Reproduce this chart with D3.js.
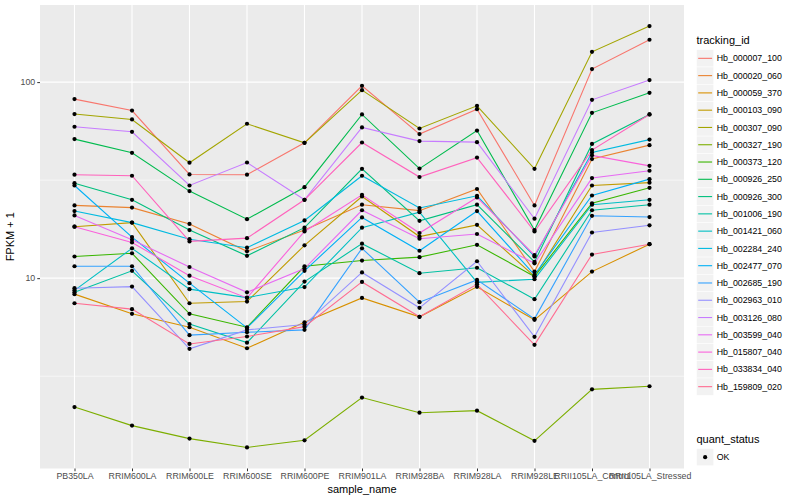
<!DOCTYPE html>
<html>
<head>
<meta charset="utf-8">
<script src="https://cdn.jsdelivr.net/npm/d3@7"></script>
<style>
  body { margin: 0; background: #fff; }
  text { font-family: "Liberation Sans", Arial, sans-serif; }
</style>
</head>
<body>
<svg id="chart" width="800" height="500"></svg>
<script>
const samples = ['PB350LA', 'RRIM600LA', 'RRIM600LE', 'RRIM600SE', 'RRIM600PE', 'RRIM901LA',
  'RRIM928BA', 'RRIM928LA', 'RRIM928LE', 'RRII105LA_Control', 'RRII105LA_Stressed'];

const trackingIds = ['Hb_000007_100', 'Hb_000020_060', 'Hb_000059_370', 'Hb_000103_090', 'Hb_000307_090',
  'Hb_000327_190', 'Hb_000373_120', 'Hb_000926_250', 'Hb_000926_300', 'Hb_001006_190', 'Hb_001421_060',
  'Hb_002284_240', 'Hb_002477_070', 'Hb_002685_190', 'Hb_002963_010', 'Hb_003126_080', 'Hb_003599_040',
  'Hb_015807_040', 'Hb_033834_040', 'Hb_159809_020'];

// FPKM + 1, one array per tracking_id, in sample order
const hb000007_100 = [81.9, 71.6, 33.8, 33.7, 49.0, 95.7, 54.3, 72.8, 23.5, 116.5, 164.4];
const hb000020_060 = [23.5, 22.9, 18.9, 13.7, 17.6, 23.7, 22.1, 28.5, 10.8, 40.5, 47.7];
const hb000059_370 = [8.29, 6.58, 5.62, 4.39, 5.96, 7.93, 6.35, 9.03, 6.13, 10.8, 14.9];
const hb000103_090 = [18.3, 19.2, 7.45, 7.60, 14.7, 26.1, 16.3, 18.7, 10.2, 29.7, 30.7];
const hb000307_090 = [68.7, 64.5, 38.8, 61.3, 49.0, 91.0, 58.0, 75.7, 36.1, 142.7, 193.1];
const hb000327_190 = [2.20, 1.77, 1.52, 1.37, 1.49, 2.46, 2.06, 2.11, 1.48, 2.71, 2.81];
const hb000373_120 = [12.9, 13.4, 6.58, 5.62, 11.5, 12.3, 12.8, 14.8, 10.2, 24.1, 28.9];
const hb000926_250 = [51.2, 43.6, 27.8, 20.0, 29.1, 68.4, 36.2, 56.6, 17.6, 69.7, 88.2];
const hb000926_300 = [30.5, 25.1, 17.6, 13.0, 18.1, 36.1, 19.6, 23.7, 12.1, 48.4, 68.4];
const hb001006_190 = [8.47, 10.9, 5.83, 4.69, 9.61, 15.0, 10.6, 11.3, 7.81, 22.2, 23.7];
const hb001421_060 = [8.67, 14.2, 8.79, 7.96, 9.01, 18.1, 21.7, 9.52, 9.88, 23.7, 25.1];
const hb002284_240 = [22.0, 19.2, 15.8, 14.3, 19.7, 33.3, 22.8, 26.3, 12.9, 43.8, 50.9];
const hb002477_070 = [29.7, 16.2, 9.43, 5.58, 10.9, 20.4, 13.8, 22.0, 10.4, 26.4, 32.0];
const hb002685_190 = [11.5, 11.5, 5.12, 5.30, 5.45, 14.2, 7.54, 9.80, 6.20, 20.8, 20.5];
const hb002963_010 = [8.89, 9.06, 4.36, 5.45, 5.80, 10.7, 7.06, 12.2, 5.02, 17.1, 18.6];
const hb003126_080 = [59.2, 55.8, 29.7, 38.9, 25.1, 58.7, 50.0, 49.4, 20.1, 81.2, 102.4];
const hb003599_040 = [20.9, 15.7, 11.4, 8.47, 11.2, 22.2, 15.9, 16.8, 11.9, 32.4, 35.3];
const hb015807_040 = [18.3, 15.2, 10.3, 7.93, 17.3, 26.6, 17.0, 25.8, 13.1, 42.3, 37.4];
const hb033834_040 = [33.7, 33.3, 15.4, 16.0, 25.1, 49.2, 32.8, 41.2, 17.3, 45.0, 68.4];
const hb159809_020 = [7.45, 6.95, 4.62, 5.04, 5.66, 9.57, 6.35, 9.30, 4.57, 13.2, 14.9];

const seriesValues = [hb000007_100, hb000020_060, hb000059_370, hb000103_090, hb000307_090,
  hb000327_190, hb000373_120, hb000926_250, hb000926_300, hb001006_190, hb001421_060,
  hb002284_240, hb002477_070, hb002685_190, hb002963_010, hb003126_080, hb003599_040,
  hb015807_040, hb033834_040, hb159809_020];

const yTicks = [10, 100];

const colors = ['#F8766D', '#EA8331', '#D89000', '#C09B00', '#A3A500', '#7CAE00', '#39B600', '#00BB4E',
  '#00BF7D', '#00C1A3', '#00BFC4', '#00BAE0', '#00B0F6', '#35A2FF', '#9590FF', '#C77CFF', '#E76BF3',
  '#FA62DB', '#FF62BC', '#FF6C91'];

const series = trackingIds.map((id, i) => ({
  id,
  color: colors[i],
  values: seriesValues[i].map((v, j) => ({sample: samples[j], value: v}))
}));

const panel = {left: 40, right: 684, top: 5, bottom: 468.5};
const svg = d3.select('#chart');

const x = d3.scalePoint()
  .domain(samples)
  .range([panel.left, panel.right])
  .padding(0.6);

// log scale, 5% expansion in log space like ggplot
const all = seriesValues.flat();
const lo = Math.log10(d3.min(all));
const hi = Math.log10(d3.max(all));
const pad = (hi - lo) * 0.05;
const y = d3.scaleLog()
  .domain([Math.pow(10, lo - pad), Math.pow(10, hi + pad)])
  .range([panel.bottom, panel.top]);

// panel background
svg.append('rect')
  .attr('x', panel.left).attr('y', panel.top)
  .attr('width', panel.right - panel.left).attr('height', panel.bottom - panel.top)
  .attr('fill', '#EBEBEB');

const grid = svg.append('g');
const minor = [Math.sqrt(10), Math.sqrt(1000)];
grid.selectAll('.minor').data(minor).enter().append('line')
  .attr('x1', panel.left).attr('x2', panel.right)
  .attr('y1', d => y(d)).attr('y2', d => y(d))
  .attr('stroke', '#fff').attr('stroke-width', 0.55);
grid.selectAll('.major').data(yTicks).enter().append('line')
  .attr('x1', panel.left).attr('x2', panel.right)
  .attr('y1', d => y(d)).attr('y2', d => y(d))
  .attr('stroke', '#fff').attr('stroke-width', 1.1);
grid.selectAll('.vx').data(samples).enter().append('line')
  .attr('x1', d => x(d)).attr('x2', d => x(d))
  .attr('y1', panel.top).attr('y2', panel.bottom)
  .attr('stroke', '#fff').attr('stroke-width', 1.1);

const line = d3.line()
  .x(d => x(d.sample))
  .y(d => y(d.value));

svg.append('g').selectAll('path')
  .data(series).enter().append('path')
  .attr('fill', 'none')
  .attr('stroke', d => d.color)
  .attr('stroke-width', 1.1)
  .attr('d', d => line(d.values));

svg.append('g').selectAll('circle')
  .data(series.flatMap(s => s.values)).enter().append('circle')
  .attr('cx', d => x(d.sample))
  .attr('cy', d => y(d.value))
  .attr('r', 2.1)
  .attr('fill', '#000');

// axes
const xAxis = svg.append('g')
  .attr('transform', `translate(0,${panel.bottom})`)
  .call(d3.axisBottom(x).tickSize(2.75).tickPadding(2));
const yAxis = svg.append('g')
  .attr('transform', `translate(${panel.left},0)`)
  .call(d3.axisLeft(y).tickValues(yTicks).tickFormat(d3.format('d')).tickSize(2.75).tickPadding(2));
[xAxis, yAxis].forEach(a => {
  a.select('.domain').remove();
  a.selectAll('.tick line').attr('stroke', '#333');
  a.selectAll('.tick text').attr('fill', '#4D4D4D').style('font-size', '8.8px')
    .style('font-family', '"Liberation Sans", Arial, sans-serif');
});

svg.append('text')
  .attr('x', (panel.left + panel.right) / 2).attr('y', 493)
  .attr('text-anchor', 'middle').style('font-size', '11px')
  .text('sample_name');
svg.append('text')
  .attr('transform', `translate(14,${(panel.top + panel.bottom) / 2}) rotate(-90)`)
  .attr('text-anchor', 'middle').style('font-size', '11px')
  .text('FPKM + 1');

// legend: tracking_id
const lg = svg.append('g').attr('transform', 'translate(696.5,0)');
lg.append('text').attr('x', 0).attr('y', 44).style('font-size', '11px').text('tracking_id');
const key = 17.28;
const items = lg.selectAll('.item').data(series).enter().append('g')
  .attr('transform', (d, i) => `translate(0,${49.7 + i * key})`);
items.append('rect').attr('width', key).attr('height', key)
  .attr('fill', '#F2F2F2').attr('stroke', '#fff').attr('stroke-width', 0.5);
items.append('line').attr('x1', 1.7).attr('x2', key - 1.7)
  .attr('y1', key / 2).attr('y2', key / 2)
  .attr('stroke', d => d.color).attr('stroke-width', 1.1);
items.append('text').attr('x', key + 3).attr('y', key / 2 + 3.1)
  .style('font-size', '8.8px').text(d => d.id);

// legend: quant_status
const lq = svg.append('g').attr('transform', 'translate(696.5,0)');
lq.append('text').attr('x', 0).attr('y', 443).style('font-size', '11px').text('quant_status');
lq.append('rect').attr('y', 448.5).attr('width', key).attr('height', key)
  .attr('fill', '#F2F2F2').attr('stroke', '#fff').attr('stroke-width', 0.5);
lq.append('circle').attr('cx', key / 2).attr('cy', 448.5 + key / 2).attr('r', 2.1).attr('fill', '#000');
lq.append('text').attr('x', key + 3).attr('y', 448.5 + key / 2 + 3.1)
  .style('font-size', '8.8px').text('OK');
</script>
</body>
</html>
